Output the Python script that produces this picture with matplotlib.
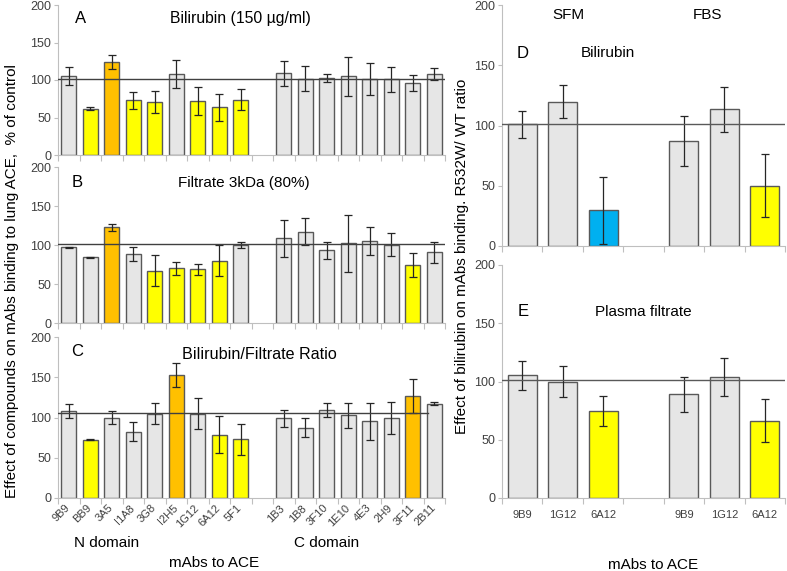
import matplotlib
matplotlib.use("Agg")
import matplotlib.pyplot as plt
import numpy as np

plt.rcParams['font.family'] = ['Liberation Sans', 'DejaVu Sans']

n_labels = ["9B9", "BB9", "3A5", "I1A8", "3G8", "I2H5", "1G12", "6A12", "5F1"]
c_labels = ["1B3", "1B8", "3F10", "1E10", "4E3", "2H9", "3F11", "2B11"]

a_vals = [105, 62, 124, 73, 71, 108, 72, 64, 74, 109, 102, 103, 105, 101, 101, 96, 108]
a_err = [12, 1.5, 9, 11, 15, 19, 18.5, 18, 14.5, 16.5, 17, 5.6, 25.7, 21.5, 17, 10.7, 7.6]
a_col = ["g", "y", "o", "y", "y", "g", "y", "y", "y", "g", "g", "g", "g", "g", "g", "g", "g"]

b_vals = [97, 84, 122.6, 88, 67.3, 70.3, 68.6, 80, 100, 108.4, 117, 93, 102, 105.4, 100.3, 74.6, 90.9]
b_err = [1, 0.8, 4.7, 8.8, 20, 8.4, 7.5, 20, 3.4, 23.8, 17, 11.4, 37, 18, 15, 15, 13.5]
b_col = ["g", "g", "o", "g", "y", "y", "y", "y", "g", "g", "g", "g", "g", "g", "g", "y", "g"]

c_vals = [108, 72.5, 100, 82.4, 104.8, 153.2, 104.8, 78.7, 72.9, 99, 87, 109.3, 102.7, 95.2, 99.4, 126.7, 117.2]
c_err = [8.7, 0.8, 8.5, 11.8, 12.7, 14.7, 19.5, 23, 19.5, 10.4, 11.8, 9, 15.3, 23, 19.7, 21, 1.5]
c_col = ["g", "y", "g", "g", "g", "o", "g", "y", "y", "g", "g", "g", "g", "g", "g", "o", "g"]

de_labels = ["9B9", "1G12", "6A12", "9B9", "1G12", "6A12"]
d_vals = [101, 119.8, 29.6, 87.4, 113.4, 50]
d_err = [11, 13.4, 28, 20.7, 18.5, 26.3]
d_col = ["g", "g", "b", "g", "g", "y"]
e_vals = [105.4, 100, 74.6, 89.1, 104, 66.3]
e_err = [12.3, 13.4, 12.7, 15, 16.5, 18.5]
e_col = ["g", "g", "y", "g", "g", "y"]

colors = {"g": "#E6E6E6", "y": "#FFFF00", "o": "#FFC000", "b": "#00B0F0"}
W, H = 787, 571
fig = plt.figure(figsize=(W / 100, H / 100), dpi=100)


def px_axes(x0, x1, top, bottom):
    return fig.add_axes([x0 / W, 1 - bottom / H, (x1 - x0) / W, (bottom - top) / H])


def style(ax, nslots):
    for s in ["top", "right"]:
        ax.spines[s].set_visible(False)
    for s in ["left", "bottom"]:
        ax.spines[s].set_color("#BFBFBF")
    ax.set_xlim(0, nslots)
    ax.set_ylim(0, 200)
    ax.set_yticks([0, 50, 100, 150, 200])
    ax.set_xticks(np.arange(nslots + 1))
    ax.set_xticklabels([])
    ax.tick_params(axis="x", length=4, color="#BFBFBF")
    ax.tick_params(axis="y", length=3, color="#BFBFBF", labelsize=9, labelcolor="#404040", pad=2)


def bars(ax, pos, vals, errs, cols, width):
    ax.bar(pos, vals, width=width, color=[colors[c] for c in cols],
           edgecolor="#595959", linewidth=1.0, zorder=2)
    ax.errorbar(pos, vals, yerr=errs, fmt="none", ecolor="#262626",
                elinewidth=0.9, capsize=3, capthick=0.9, zorder=3)


left_pos = np.array(list(np.arange(9) + 0.5) + list(np.arange(10, 18) + 0.5))
right_pos = np.array([0.5, 1.5, 2.5, 4.5, 5.5, 6.5])

axA = px_axes(58, 445, 5, 155)
axB = px_axes(58, 445, 167, 323)
axC = px_axes(58, 445, 337, 498)
for ax, v, e, c in [(axA, a_vals, a_err, a_col), (axB, b_vals, b_err, b_col), (axC, c_vals, c_err, c_col)]:
    style(ax, 18)
    bars(ax, left_pos, v, e, c, 0.7)

axA.axhline(101, color="#404040", lw=1.0, zorder=4)
axB.axhline(101, color="#404040", lw=1.0, zorder=4)
axC.plot([0, 17.2], [105.5, 105.5], color="#404040", lw=1.0, zorder=4)

axA.text(0.045, 0.88, "A", transform=axA.transAxes, fontsize=12)
axA.text(0.47, 0.91, "Bilirubin (150 µg/ml)", transform=axA.transAxes, fontsize=11.3, ha="center", va="center")
axB.text(0.035, 0.90, "B", transform=axB.transAxes, fontsize=12, va="center")
axB.text(0.48, 0.90, "Filtrate 3kDa (80%)", transform=axB.transAxes, fontsize=11, ha="center", va="center")
axC.text(0.035, 0.91, "C", transform=axC.transAxes, fontsize=12, va="center")
axC.text(0.52, 0.89, "Bilirubin/Filtrate Ratio", transform=axC.transAxes, fontsize=11.6, ha="center", va="center")

for p, lab in zip(left_pos, n_labels + c_labels):
    axC.text(p + 0.15, -6, lab, rotation=45, ha="right", va="top", fontsize=8, color="#404040")

fig.text(107 / W, 1 - 543 / H, "N domain", fontsize=11, ha="center", va="center")
fig.text(327 / W, 1 - 543 / H, "C domain", fontsize=11, ha="center", va="center")
fig.text(214 / W, 1 - 563 / H, "mAbs to ACE", fontsize=11, ha="center", va="center")
fig.text(12 / W, 1 - 281 / H, "Effect of compounds on mAbs binding to lung ACE,  % of control",
         rotation=90, fontsize=11, ha="center", va="center")

axD = px_axes(502, 785, 5, 246)
axE = px_axes(502, 785, 265, 498)
for ax, v, e, c in [(axD, d_vals, d_err, d_col), (axE, e_vals, e_err, e_col)]:
    style(ax, 7)
    bars(ax, right_pos, v, e, c, 0.72)
    ax.axhline(101, color="#595959", lw=1.0, zorder=4)

axD.text(568 / W, 1 - 15 / H, "SFM", transform=fig.transFigure, fontsize=11, ha="center", va="center")
axD.text(708 / W, 1 - 15 / H, "FBS", transform=fig.transFigure, fontsize=11, ha="center", va="center")
axD.text(523 / W, 1 - 53 / H, "D", transform=fig.transFigure, fontsize=12, ha="center", va="center")
axD.text(608 / W, 1 - 53 / H, "Bilirubin", transform=fig.transFigure, fontsize=11, ha="center", va="center")
axE.text(523 / W, 1 - 312 / H, "E", transform=fig.transFigure, fontsize=12, ha="center", va="center")
axE.text(643 / W, 1 - 312 / H, "Plasma filtrate", transform=fig.transFigure, fontsize=11, ha="center", va="center")
for p, lab in zip(right_pos, de_labels):
    axE.text(p, -10, lab, ha="center", va="top", fontsize=8, color="#404040")
fig.text(653 / W, 1 - 565 / H, "mAbs to ACE", fontsize=11, ha="center", va="center")
fig.text(462 / W, 1 - 256 / H, "Effect of bilirubin on mAbs binding. R532W/ WT ratio",
         rotation=90, fontsize=11, ha="center", va="center")

fig.savefig("out.png", dpi=100)
